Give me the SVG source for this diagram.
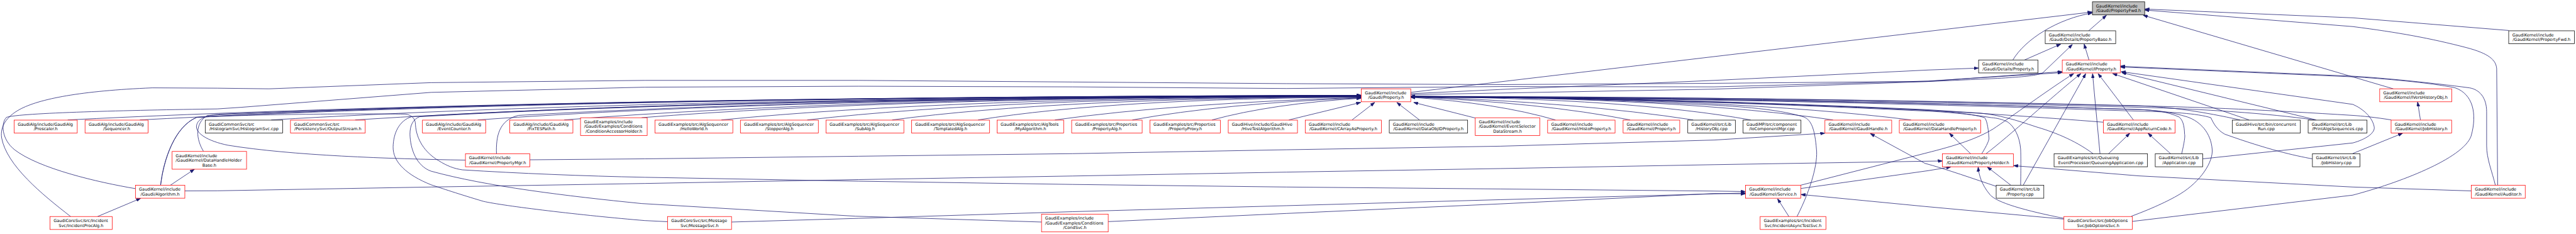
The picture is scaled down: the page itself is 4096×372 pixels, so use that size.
<svg xmlns="http://www.w3.org/2000/svg" width="4096" height="372" viewBox="0 0 4096 372">
<style>
.e path{fill:none;stroke:#191970;stroke-width:1.5;marker-end:url(#a)}
.n rect{fill:#fff;stroke-width:1.5}
.r rect{stroke:#ff0000}
.k rect{stroke:#000}
.g rect{fill:#bfbfbf;stroke:#000}
text{font-family:"DejaVu Sans","Liberation Sans",sans-serif;font-size:12.8px;fill:#000}
.m{text-anchor:middle}
</style>
<defs>
<marker id="a" markerUnits="userSpaceOnUse" markerWidth="14" markerHeight="10" refX="14" refY="5" orient="auto" viewBox="0 0 14 10"><path d="M0,0L14,5L0,10z" fill="#191970" stroke="#191970" stroke-width="1"/></marker>
</defs>
<rect width="4096" height="372" fill="#fff"/>
<g transform="scale(0.5153)">
<g id="edges" class="e">
<path d="M4353,285 L6456,37"/>
<path d="M6211,185 C6250,120 6350,58 6456,40"/>
<path d="M6445,95 L6500,47"/>
<path d="M7741,94 L7260,55 L6618,28"/>
<path d="M7707,571 L7704,212 C7702,185 7680,165 7611,147 C7500,118 7400,100 7260,82 L6618,31"/>
<path d="M7385,274 L6613,47"/>
<path d="M6247,185 L6359,136"/>
<path d="M6446,185 L6431,136"/>
<path d="M4353,292 L4630,287 L5290,275 L5940,252 C6150,242 6270,240 6303,225 L6395,137"/>
<path d="M4353,289 L4630,276 L5290,248 L5950,216 L6105,210"/>
<path d="M218,668 C130,600 20,510 5,425 C0,390 20,360 60,338 C120,305 250,280 470,271 L670,272 L830,274 L1330,255 L1990,248 L2650,248 L3310,253 L3970,258 L4630,261 L5290,257 L5950,251 L6363,221"/>
<path d="M418,582 C300,562 120,520 45,462 C5,430 2,380 20,362 C60,348 400,340 670,336 L745,331 L1330,285 L1990,269 L2650,266 L3310,268 L3970,273 L4630,267 L5290,268 L5950,250 L6363,224"/>
<path d="M5556,571.5 L5940,473 C6040,448 6100,428 6150,398 C6200,365 6330,270 6399,227"/>
<path d="M6128,474.5 C6200,420 6330,300 6421,227"/>
<path d="M6243,571.5 L6436,227"/>
<path d="M6480,474.5 L6457,227"/>
<path d="M6583,370 L6474,227"/>
<path d="M6940,370 L6519,227"/>
<path d="M7147,370 L6547,224"/>
<path d="M6797,490 L7260,441 C7300,430 7330,410 7326,391 C7320,360 7290,335 7260,322 L6545,221"/>
<path d="M6580,683 L7260,602 C7400,565 7600,490 7625,420 C7645,350 7630,290 7576,271 C7500,255 7350,242 7260,237 L6600,209 L6543,207"/>
<path d="M7700,571.5 C7690,530 7673,490 7673,450 L7673,345 C7673,300 7650,276 7620,271 C7500,255 7350,240 7260,235 L6600,207 L6543,204"/>
<path d="M3977,370 L4199,316"/>
<path d="M4172,370 L4242,316"/>
<path d="M4380,370 L4310,316"/>
<path d="M4552,364 L4362,316"/>
<path d="M209,370 Q1606,300 4200,294"/>
<path d="M431.6,370 Q1750,300 4200,294"/>
<path d="M837,370 Q2014,300 4200,295"/>
<path d="M1096,370 Q2182,300 4200,295"/>
<path d="M1474,370 Q2428,301 4200,296"/>
<path d="M1741,370 Q2602,301 4200,296"/>
<path d="M1980,363 Q2757,301 4200,297"/>
<path d="M2226,370 Q2917,302 4200,297"/>
<path d="M2491,370 Q3089,302 4200,298"/>
<path d="M2753,370 Q3259,303 4200,299"/>
<path d="M3018,370 Q3432,304 4200,300"/>
<path d="M3255,370 Q3633,318 4200,301"/>
<path d="M3494,370 Q3776,319 4200,302"/>
<path d="M3740,370 Q3924,320 4200,303"/>
<path d="M495.6,571.5 C505,490 540,390 607,362 Q1700,300 4200,294"/>
<path d="M628,467 C605,430 600,380 640,356 Q1800,300 4200,295"/>
<path d="M1532,474.5 C1530,420 1540,370 1600,356 Q2600,300 4200,296"/>
<path d="M1436,494 C1200,490 900,480 703,448 C640,435 600,410 607,385 C612,365 640,355 680,352 Q2000,300 4200,295"/>
<path d="M2060,684 L1990,680.5 C1800,665 1550,635 1491,621 C1420,600 1360,580 1330,570 C1255,540 1212,500 1213,453 C1214,410 1232,372 1270,360 Q2300,300 4200,297"/>
<path d="M3214,685 L2640,667 L1980,628 C1750,605 1500,575 1330,528 C1285,512 1266,460 1265,414 C1265,385 1275,368 1295,360 Q2300,302 4200,298"/>
<path d="M495.6,571.5 C505,490 540,390 607,362 C800,352 1100,350 1250,352 C1275,355 1282,370 1282,385 C1285,430 1310,470 1354,496 C1380,512 1400,520 1427,524 C1600,535 1800,543 1990,547 L2650,559 L3310,569 L3970,577 L4630,583 L5290,589.5 L5386,591"/>
<path d="M4799.5,370 Q4621,318 4353,300"/>
<path d="M5030,370 Q4759,317 4353,299"/>
<path d="M5224.6,370 Q4876,316 4353,298"/>
<path d="M5402,370 Q5035,304 4353,298"/>
<path d="M5656,370 Q5200,303 4353,297"/>
<path d="M5897,370 Q5357,303 4353,297"/>
<path d="M5545,668 C5590,580 5610,500 5605,460 C5600,400 5590,370 5566,361 C5500,340 5400,330 5280,324 Q4800,298 4353,297"/>
<path d="M6115,474.5 C6130,450 6140,430 6137,423 C6135,390 6130,370 6124,363 C6080,350 6000,343 5940,340 Q5100,300 4353,298"/>
<path d="M6235,571.5 C6236,520 6236,480 6235,460 C6232,420 6215,390 6196,377 C6180,368 6160,364 6145,363 C6080,352 6000,345 5940,342.5 Q5100,302 4353,299"/>
<path d="M6459,474.5 C6400,430 6330,405 6282,391 C6220,370 6170,355 6111,349 L5940,338 Q5100,300 4353,298"/>
<path d="M6490,377 C6300,362 6100,348 5940,340 Q5100,301 4353,299"/>
<path d="M6732,474.5 C6740,440 6743,420 6741,414 C6740,385 6735,370 6724,361 C6690,345 6650,340 6600,338 Q5400,300 4353,299"/>
<path d="M7135,490 C7080,480 7000,462 6865,414 C6840,400 6830,380 6822,363 C6780,350 6700,345 6600,343 Q5400,302 4353,300"/>
<path d="M6577,667 C6650,640 6700,615 6728,598 C6790,560 6830,500 6826,460 C6822,410 6790,375 6750,361 C6700,345 6650,340 6600,338 Q5400,300 4353,300"/>
<path d="M6912,370 C6800,345 6700,330 6600,326 Q5400,298 4353,298"/>
<path d="M7143,370 C7000,350 6800,336 6600,331 Q5400,300 4353,299"/>
<path d="M7378.6,370 C7330,362 7290,358 7260,356 C7000,340 6800,330 6600,327 Q5400,298 4353,297"/>
<path d="M301,668 L434,612"/>
<path d="M525.6,571.5 L600,522"/>
<path d="M570,589 L670,588.6 L1330,577 L1990,566 L2650,554 L3310,543 L3970,531 L4630,520 L5290,508 L5994,496.6"/>
<path d="M2257,685 L2650,673.6 L3310,653 L3970,634.5 L4630,616 L5290,598 L5386,595.5"/>
<path d="M3419.6,683.7 L3970,658.5 L4630,629 L5290,597 L5386,598"/>
<path d="M5520,668 L5485,613"/>
<path d="M6368.6,676 L5940,637 L5557,600"/>
<path d="M5556.5,581.6 L5950,526.5 L6020,515"/>
<path d="M1635,493 L1990,490 L2650,482 L3310,474 L3970,462 L4630,451 L5290,432 L5631,411"/>
<path d="M6160,575 C6100,555 6000,520 5940,504 L5771,412"/>
<path d="M6205,571.5 L6132,515"/>
<path d="M6081,474.5 L6015,411"/>
<path d="M6368.6,673.6 C6250,650 6160,625 6140,600 C6115,570 6106,540 6104,515"/>
<path d="M6506,474.5 L6572,411"/>
<path d="M6698,474.5 L6628,411"/>
<path d="M7625.6,589 L7260,577 L6600,542.6 L6213,511"/>
<path d="M7468.7,370 L7460,314.5"/>
<path d="M7260,473.6 L7414,411"/>
</g>
<g id="nodes">
<g id="n_root" class="n g"><rect x="6456.6" y="5.5" width="161.3" height="40.5"/><text x="6467.6" y="22.5">GaudiKernel/include</text><text class="m" x="6537.3" y="37.1">/Gaudi/PropertyFwd.h</text></g>
<g id="n_propbase" class="n k"><rect x="6310.9" y="95" width="217.5" height="40"/><text x="6321.9" y="112">GaudiKernel/include</text><text class="m" x="6419.7" y="126.6">/Gaudi/Details/PropertyBase.h</text></g>
<g id="n_gkpropfwd" class="n k"><rect x="7741.1" y="95" width="203" height="40"/><text x="7752.1" y="112">GaudiKernel/include</text><text class="m" x="7842.6" y="126.6">/GaudiKernel/PropertyFwd.h</text></g>
<g id="n_detprop" class="n k"><rect x="6105.4" y="185" width="182.9" height="40"/><text x="6116.4" y="202">GaudiKernel/include</text><text class="m" x="6196.9" y="216.6">/Gaudi/Details/Property.h</text></g>
<g id="n_iprop" class="n r"><rect x="6363.5" y="185" width="179" height="40"/><text x="6374.5" y="202">GaudiKernel/include</text><text class="m" x="6453" y="216.6">/GaudiKernel/IProperty.h</text></g>
<g id="n_gprop" class="n r"><rect x="4200.6" y="274" width="152.5" height="40"/><text x="4211.6" y="291">GaudiKernel/include</text><text class="m" x="4276.9" y="305.6">/Gaudi/Property.h</text></g>
<g id="n_ivers" class="n r"><rect x="7343" y="274" width="222.4" height="40"/><text x="7354" y="291">GaudiKernel/include</text><text class="m" x="7454.2" y="305.6">/GaudiKernel/IVersHistoryObj.h</text></g>
<g id="n_prescaler" class="n r"><rect x="43.6" y="370.6" width="194.8" height="40"/><text x="54.6" y="387.6">GaudiAlg/include/GaudiAlg</text><text class="m" x="141" y="402.2">/Prescaler.h</text></g>
<g id="n_sequencer" class="n r"><rect x="262.4" y="370.6" width="194.8" height="40"/><text x="273.4" y="387.6">GaudiAlg/include/GaudiAlg</text><text class="m" x="359.8" y="402.2">/Sequencer.h</text></g>
<g id="n_histsvc" class="n k"><rect x="633.3" y="370.6" width="239.1" height="40"/><text x="644.3" y="387.6">GaudiCommonSvc/src</text><text class="m" x="752.9" y="402.2">/HistogramSvc/HistogramSvc.cpp</text></g>
<g id="n_outstream" class="n r"><rect x="896.3" y="370.6" width="230.7" height="40"/><text x="907.3" y="387.6">GaudiCommonSvc/src</text><text class="m" x="1011.7" y="402.2">/PersistencySvc/OutputStream.h</text></g>
<g id="n_evcounter" class="n r"><rect x="1303.5" y="370.6" width="195.1" height="40"/><text x="1314.5" y="387.6">GaudiAlg/include/GaudiAlg</text><text class="m" x="1401" y="402.2">/EventCounter.h</text></g>
<g id="n_fixtes" class="n r"><rect x="1573" y="370.6" width="194.8" height="40"/><text x="1584" y="387.6">GaudiAlg/include/GaudiAlg</text><text class="m" x="1670.4" y="402.2">/FixTESPath.h</text></g>
<g id="n_condacc" class="n r"><rect x="1791.3" y="363.2" width="205.7" height="54.8"/><text x="1802.3" y="380.2">GaudiExamples/include</text><text x="1802.3" y="394.9">/Gaudi/Examples/Conditions</text><text class="m" x="1894.2" y="409.6">/ConditionAccessorHolder.h</text></g>
<g id="n_hello" class="n r"><rect x="2021" y="370.6" width="240.2" height="40"/><text x="2032" y="387.6">GaudiExamples/src/AlgSequencer</text><text class="m" x="2141.1" y="402.2">/HelloWorld.h</text></g>
<g id="n_stopper" class="n r"><rect x="2284.7" y="370.6" width="240.5" height="40"/><text x="2295.7" y="387.6">GaudiExamples/src/AlgSequencer</text><text class="m" x="2405" y="402.2">/StopperAlg.h</text></g>
<g id="n_subalg" class="n r"><rect x="2548.7" y="370.6" width="240.3" height="40"/><text x="2559.7" y="387.6">GaudiExamples/src/AlgSequencer</text><text class="m" x="2668.9" y="402.2">/SubAlg.h</text></g>
<g id="n_templated" class="n r"><rect x="2813" y="370.6" width="240.2" height="40"/><text x="2824" y="387.6">GaudiExamples/src/AlgSequencer</text><text class="m" x="2933.1" y="402.2">/TemplatedAlg.h</text></g>
<g id="n_myalg" class="n r"><rect x="3076.7" y="370.6" width="205.5" height="40"/><text x="3087.7" y="387.6">GaudiExamples/src/AlgTools</text><text class="m" x="3179.5" y="402.2">/MyAlgorithm.h</text></g>
<g id="n_propalg" class="n r"><rect x="3306.8" y="370.6" width="217.5" height="40"/><text x="3317.8" y="387.6">GaudiExamples/src/Properties</text><text class="m" x="3415.6" y="402.2">/PropertyAlg.h</text></g>
<g id="n_propproxy" class="n r"><rect x="3548.3" y="370.6" width="217.5" height="40"/><text x="3559.3" y="387.6">GaudiExamples/src/Properties</text><text class="m" x="3657.1" y="402.2">/PropertyProxy.h</text></g>
<g id="n_hivetest" class="n r"><rect x="3790" y="370.6" width="213.6" height="40"/><text x="3801" y="387.6">GaudiHive/include/GaudiHive</text><text class="m" x="3896.8" y="402.2">/HiveTestAlgorithm.h</text></g>
<g id="n_carray" class="n r"><rect x="4027.5" y="370.6" width="235" height="40"/><text x="4038.5" y="387.6">GaudiKernel/include</text><text class="m" x="4145" y="402.2">/GaudiKernel/CArrayAsProperty.h</text></g>
<g id="n_dataobjid" class="n k"><rect x="4286.9" y="370.6" width="241.8" height="40"/><text x="4297.9" y="387.6">GaudiKernel/include</text><text class="m" x="4407.8" y="402.2">/GaudiKernel/DataObjIDProperty.h</text></g>
<g id="n_evsel" class="n r"><rect x="4552.2" y="363.2" width="199" height="54.8"/><text x="4563.2" y="380.2">GaudiKernel/include</text><text x="4563.2" y="394.9">/GaudiKernel/EventSelector</text><text class="m" x="4651.7" y="409.6">DataStream.h</text></g>
<g id="n_histoprop" class="n r"><rect x="4775.5" y="370.6" width="208.1" height="40"/><text x="4786.5" y="387.6">GaudiKernel/include</text><text class="m" x="4879.6" y="402.2">/GaudiKernel/HistoProperty.h</text></g>
<g id="n_gkprop" class="n r"><rect x="5008.4" y="370.6" width="174.8" height="40"/><text x="5019.4" y="387.6">GaudiKernel/include</text><text class="m" x="5095.8" y="402.2">/GaudiKernel/Property.h</text></g>
<g id="n_histobj" class="n k"><rect x="5208" y="370.6" width="146.8" height="40"/><text x="5219" y="387.6">GaudiKernel/src/Lib</text><text class="m" x="5281.4" y="402.2">/HistoryObj.cpp</text></g>
<g id="n_iocomp" class="n k"><rect x="5378.3" y="370.6" width="179" height="40"/><text x="5389.3" y="387.6">GaudiMP/src/component</text><text class="m" x="5467.8" y="402.2">/IoComponentMgr.cpp</text></g>
<g id="n_gaudihandle" class="n r"><rect x="5631.2" y="370.6" width="206" height="40"/><text x="5642.2" y="387.6">GaudiKernel/include</text><text class="m" x="5734.2" y="402.2">/GaudiKernel/GaudiHandle.h</text></g>
<g id="n_dhprop" class="n r"><rect x="5860.7" y="370.6" width="251.1" height="40"/><text x="5871.7" y="387.6">GaudiKernel/include</text><text class="m" x="5986.3" y="402.2">/GaudiKernel/DataHandleProperty.h</text></g>
<g id="n_appret" class="n r"><rect x="6490.4" y="370.6" width="221.5" height="40"/><text x="6501.4" y="387.6">GaudiKernel/include</text><text class="m" x="6601.2" y="402.2">/GaudiKernel/AppReturnCode.h</text></g>
<g id="n_concrun" class="n k"><rect x="6888" y="370.6" width="210.2" height="40"/><text x="6899" y="387.6">GaudiHive/src/bin/concurrent</text><text class="m" x="6993.1" y="402.2">Run.cpp</text></g>
<g id="n_printalgs" class="n k"><rect x="7122.2" y="370.6" width="181.7" height="40"/><text x="7133.2" y="387.6">GaudiKernel/src/Lib</text><text class="m" x="7213" y="402.2">/PrintAlgsSequences.cpp</text></g>
<g id="n_jobhist" class="n r"><rect x="7378.2" y="370.6" width="186.8" height="40"/><text x="7389.2" y="387.6">GaudiKernel/include</text><text class="m" x="7471.6" y="402.2">/GaudiKernel/JobHistory.h</text></g>
<g id="n_dhhb" class="n r"><rect x="531.1" y="467.2" width="229.7" height="54.8"/><text x="542.1" y="484.2">GaudiKernel/include</text><text x="542.1" y="498.9">/GaudiKernel/DataHandleHolder</text><text class="m" x="646" y="513.6">Base.h</text></g>
<g id="n_propmgr" class="n r"><rect x="1436.2" y="474.5" width="198.7" height="40"/><text x="1447.2" y="491.5">GaudiKernel/include</text><text class="m" x="1535.5" y="506.1">/GaudiKernel/PropertyMgr.h</text></g>
<g id="n_propholder" class="n r"><rect x="5993.8" y="474.5" width="218.8" height="40"/><text x="6004.8" y="491.5">GaudiKernel/include</text><text class="m" x="6103.2" y="506.1">/GaudiKernel/PropertyHolder.h</text></g>
<g id="n_queueapp" class="n k"><rect x="6338.2" y="474.5" width="288.3" height="40"/><text x="6349.2" y="491.5">GaudiExamples/src/Queueing</text><text class="m" x="6482.3" y="506.1">EventProcessor/QueueingApplication.cpp</text></g>
<g id="n_appcpp" class="n k"><rect x="6650.4" y="474.5" width="146.6" height="40"/><text x="6661.4" y="491.5">GaudiKernel/src/Lib</text><text class="m" x="6723.7" y="506.1">/Application.cpp</text></g>
<g id="n_jobhistcpp" class="n k"><rect x="7135.4" y="474.5" width="146.6" height="40"/><text x="7146.4" y="491.5">GaudiKernel/src/Lib</text><text class="m" x="7208.7" y="506.1">/JobHistory.cpp</text></g>
<g id="n_algorithm" class="n r"><rect x="417.9" y="571.5" width="152.5" height="40"/><text x="428.9" y="588.5">GaudiKernel/include</text><text class="m" x="494.1" y="603.1">/Gaudi/Algorithm.h</text></g>
<g id="n_service" class="n r"><rect x="5386.4" y="571.5" width="170.1" height="40"/><text x="5397.4" y="588.5">GaudiKernel/include</text><text class="m" x="5471.5" y="603.1">/GaudiKernel/Service.h</text></g>
<g id="n_propcpp" class="n k"><rect x="6159.6" y="571.5" width="147" height="40"/><text x="6170.6" y="588.5">GaudiKernel/src/Lib</text><text class="m" x="6233.1" y="603.1">/Property.cpp</text></g>
<g id="n_auditor" class="n r"><rect x="7625.6" y="571.5" width="166.5" height="40"/><text x="7636.6" y="588.5">GaudiKernel/include</text><text class="m" x="7708.9" y="603.1">/GaudiKernel/Auditor.h</text></g>
<g id="n_incproc" class="n r"><rect x="154.3" y="668" width="191.8" height="40"/><text x="165.3" y="685">GaudiCoreSvc/src/Incident</text><text class="m" x="250.2" y="699.6">Svc/IncidentProcAlg.h</text></g>
<g id="n_msgsvc" class="n r"><rect x="2059.9" y="668" width="197.4" height="40"/><text x="2070.9" y="685">GaudiCoreSvc/src/Message</text><text class="m" x="2158.6" y="699.6">Svc/MessageSvc.h</text></g>
<g id="n_condsvc" class="n r"><rect x="3213.9" y="660.7" width="205.7" height="54.8"/><text x="3224.9" y="677.7">GaudiExamples/include</text><text x="3224.9" y="692.4">/Gaudi/Examples/Conditions</text><text class="m" x="3316.7" y="707.1">/CondSvc.h</text></g>
<g id="n_asyncsvc" class="n r"><rect x="5431.3" y="668" width="202.9" height="40"/><text x="5442.3" y="685">GaudiExamples/src/Incident</text><text class="m" x="5532.7" y="699.6">Svc/IncidentAsyncTestSvc.h</text></g>
<g id="n_joboptsvc" class="n r"><rect x="6368.6" y="668" width="211.1" height="40"/><text x="6379.6" y="685">GaudiCoreSvc/src/JobOptions</text><text class="m" x="6474.2" y="699.6">Svc/JobOptionsSvc.h</text></g>
</g>
</g>
</svg>
